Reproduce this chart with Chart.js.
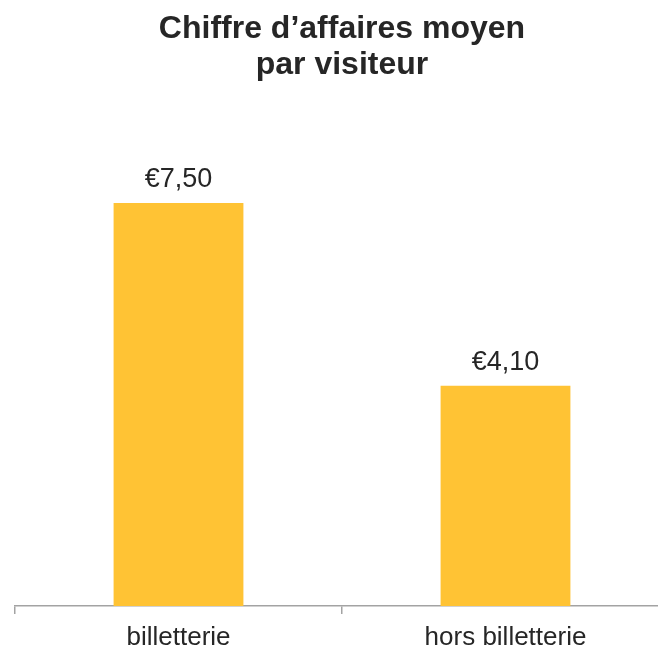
<!DOCTYPE html>
<html>
<head>
<meta charset="utf-8">
<script src="https://cdn.jsdelivr.net/npm/chart.js@4"></script>
<style>
  html, body { margin: 0; padding: 0; background: #fff; overflow: hidden; }
  #wrap { width: 680px; height: 662px; }
</style>
</head>
<body>
<div id="wrap"><canvas id="chart"></canvas></div>
<script>
const categories = ["billetterie", "hors billetterie"];
const values = [7.5, 4.1];
const valueLabels = ["€7,50", "€4,10"];
const titleLines = ["Chiffre d’affaires moyen", "par visiteur"];

const FONT = "'Liberation Sans', Arial, sans-serif";
const TEXT = "#262626";
const BAR = "#FFC334";
const AXIS = "#a3a3a3";

// draws the value above each bar
const valueLabelPlugin = {
  id: "valueLabels",
  afterDatasetsDraw(chart) {
    const meta = chart.getDatasetMeta(0);
    const ctx = chart.ctx;
    ctx.save();
    ctx.font = `27px ${FONT}`;
    ctx.fillStyle = TEXT;
    ctx.textAlign = "center";
    ctx.textBaseline = "alphabetic";
    meta.data.forEach((bar, i) => {
      ctx.fillText(valueLabels[i], bar.x, bar.y - 16);
    });
    ctx.restore();
  },
};

new Chart(document.getElementById("chart"), {
  type: "bar",
  plugins: [valueLabelPlugin],
  data: {
    labels: categories,
    datasets: [
      {
        data: values,
        backgroundColor: BAR,
        borderWidth: 0,
        categoryPercentage: 1,
        barPercentage: 0.397,
      },
    ],
  },
  options: {
    responsive: true,
    maintainAspectRatio: false,
    animation: false,
    layout: {
      padding: { top: 0, right: 11, bottom: 0, left: 15 },
    },
    plugins: {
      legend: { display: false },
      tooltip: { enabled: false },
      title: {
        display: true,
        text: titleLines,
        color: TEXT,
        font: { family: FONT, size: 32, weight: "bold", lineHeight: 1.1 },
        padding: { top: 12, bottom: 40 },
      },
    },
    scales: {
      x: {
        border: { display: true, color: AXIS, width: 1.5 },
        grid: {
          offset: true,
          drawOnChartArea: false,
          drawTicks: true,
          tickLength: 8,
          color: AXIS,
          lineWidth: 1.5,
        },
        ticks: {
          color: TEXT,
          padding: 11,
          font: { family: FONT, size: 26, lineHeight: 1 },
        },
      },
      y: {
        display: false,
        min: 0,
        max: 9,
      },
    },
  },
});
</script>
</body>
</html>
